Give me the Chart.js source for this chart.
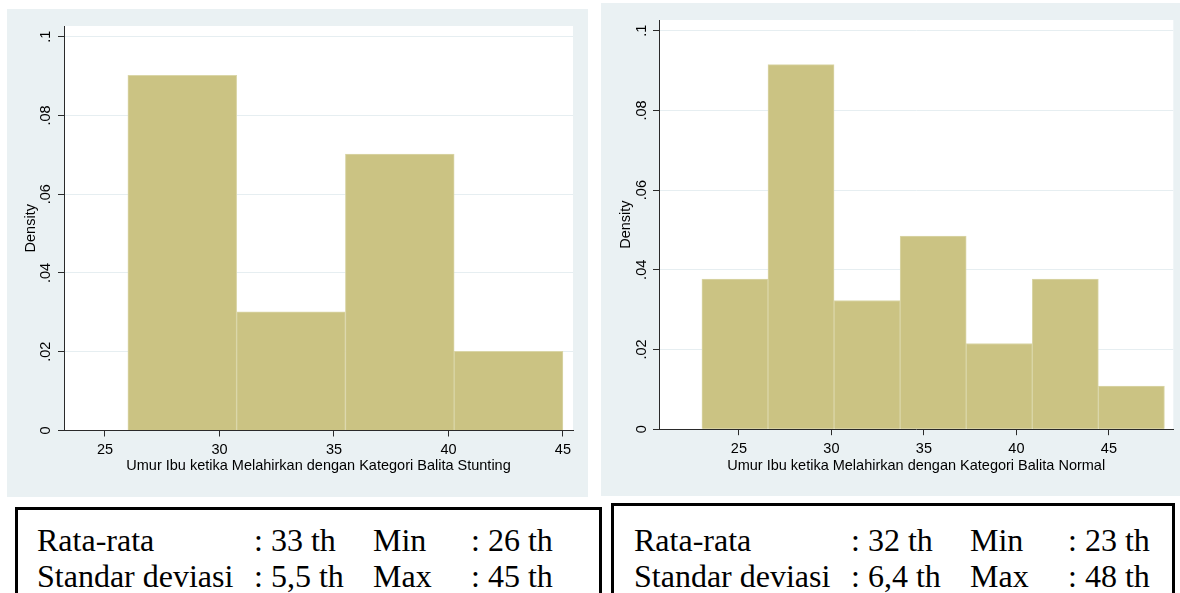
<!DOCTYPE html>
<html>
<head>
<meta charset="utf-8">
<script src="https://cdn.jsdelivr.net/npm/chart.js@4.4.1/dist/chart.umd.min.js"></script>
<style>
  html, body { margin: 0; padding: 0; background: #fff; }
  body { position: relative; width: 1180px; height: 593px; overflow: hidden; }
  canvas { position: absolute; background: #eaf1f3; }
  .box { position: absolute; box-sizing: border-box; border: 3px solid #000; border-bottom: none; }
  .txt { position: absolute; font-family: 'Liberation Serif', 'Times New Roman', serif; font-size: 32px; line-height: 32px; color: #000; white-space: pre; }
</style>
</head>
<body>
<canvas id="histStunting" width="581" height="488" style="left:7px;top:9px"></canvas>
<canvas id="histNormal" width="579" height="493" style="left:601px;top:3px"></canvas>
<div class="box" style="left:15px;top:507px;width:587px;height:100px"></div>
<div class="box" style="left:611px;top:503px;width:564px;height:100px"></div>
<div id="stats"></div>

<script>
// ---- data ----
const stuntingEdges   = [26, 30.75, 35.5, 40.25, 45];
const stuntingDensity = [0.0902, 0.0301, 0.0702, 0.0201];

const normalEdges   = [23, 26.571, 30.143, 33.714, 37.286, 40.857, 44.429, 48];
const normalDensity = [0.0377, 0.0915, 0.0323, 0.0485, 0.0215, 0.0377, 0.0108];

const xTicks = [25, 30, 35, 40, 45];
const yTicks = [0, 0.02, 0.04, 0.06, 0.08, 0.1];
const yTickLabels = ['0', '.02', '.04', '.06', '.08', '.1'];

const statNames = ['Rata-rata', 'Standar deviasi'];
const statNames2 = ['Min', 'Max'];
const stuntingStats = [': 33 th', ': 5,5 th'];
const stuntingStats2 = [': 26 th', ': 45 th'];
const normalStats = [': 32 th', ': 6,4 th'];
const normalStats2 = [': 23 th', ': 48 th'];

const BAR = '#cbc383';
const BAR_EDGE = '#dad6a8';
const GRID = '#e6eef1';
const AXIS = '#2a2a2a';
const FONT = { family: "'Liberation Sans', Arial, sans-serif", size: 14.5 };

// white plot region like stata's plotregion
const plotBg = {
  id: 'plotBg',
  beforeDraw(chart) {
    const a = chart.chartArea;
    chart.ctx.save();
    chart.ctx.fillStyle = '#fff';
    chart.ctx.fillRect(a.left, a.top, a.right - a.left, a.bottom - a.top);
    chart.ctx.restore();
  }
};

function makeHist(id, edges, dens, o) {
  const pts = dens.map((d, i) => ({ x: (edges[i] + edges[i + 1]) / 2, y: d }));
  return new Chart(document.getElementById(id), {
    type: 'bar',
    data: {
      datasets: [{
        data: pts,
        backgroundColor: BAR,
        borderColor: BAR_EDGE,
        borderWidth: 1,
        barPercentage: 1,
        categoryPercentage: 1
      }]
    },
    options: {
      responsive: false,
      animation: false,
      layout: { padding: { left: 0, top: o.padTop, right: o.padRight, bottom: 0 } },
      plugins: { legend: { display: false }, tooltip: { enabled: false } },
      scales: {
        x: {
          type: 'linear',
          min: o.xMin, max: o.xMax,
          offset: false,
          afterBuildTicks: s => { s.ticks = xTicks.map(v => ({ value: v })); },
          afterFit: s => { s.height = o.xHeight; },
          grid: { offset: false, drawOnChartArea: false, tickColor: AXIS, tickLength: 6 },
          border: { color: AXIS, width: 1, z: 1 },
          ticks: { color: '#000', font: FONT, padding: 5, maxRotation: 0, autoSkip: false, callback: v => String(v) },
          title: { display: true, text: o.title, color: '#000', font: FONT, padding: { top: 0, bottom: o.xTitlePad } }
        },
        y: {
          min: 0, max: 0.1027,
          afterBuildTicks: s => { s.ticks = yTicks.map(v => ({ value: v })); },
          afterFit: s => { s.width = o.yWidth; },
          grid: { color: GRID, tickColor: AXIS, tickLength: 6 },
          border: { color: AXIS, width: 1, z: 1 },
          ticks: {
            color: '#000', font: FONT, padding: o.yTickPad,
            minRotation: 90, maxRotation: 90, crossAlign: 'center',
            callback: (v, i) => yTickLabels[i]
          },
          title: { display: true, text: 'Density', color: '#000', font: FONT, padding: { top: o.yTitlePad, bottom: 0 } }
        }
      }
    },
    plugins: [plotBg]
  });
}

makeHist('histStunting', stuntingEdges, stuntingDensity, {
  xMin: 23.21, xMax: 45.44, padTop: 17, padRight: 15, xHeight: 66.5, yWidth: 57,
  yTickPad: 2.4, yTitlePad: 15.5, xTitlePad: 22,
  title: 'Umur Ibu ketika Melahirkan dengan Kategori Balita Stunting'
});

makeHist('histNormal', normalEdges, normalDensity, {
  xMin: 20.68, xMax: 48.48, padTop: 17, padRight: 6.7, xHeight: 66.8, yWidth: 58,
  yTickPad: 1, yTitlePad: 16.5, xTitlePad: 21,
  title: 'Umur Ibu ketika Melahirkan dengan Kategori Balita Normal'
});

// summary boxes under each histogram
function addStats(x0, vals, vals2) {
  const host = document.getElementById('stats');
  const cols = [0, 217, 336, 434];
  const tops = [524, 560];
  tops.forEach((t, r) => {
    [statNames[r], vals[r], statNames2[r], vals2[r]].forEach((s, c) => {
      const d = document.createElement('div');
      d.className = 'txt';
      d.style.left = (x0 + cols[c]) + 'px';
      d.style.top = t + 'px';
      d.textContent = s;
      host.appendChild(d);
    });
  });
}
addStats(37, stuntingStats, stuntingStats2);
addStats(634, normalStats, normalStats2);
</script>
</body>
</html>
